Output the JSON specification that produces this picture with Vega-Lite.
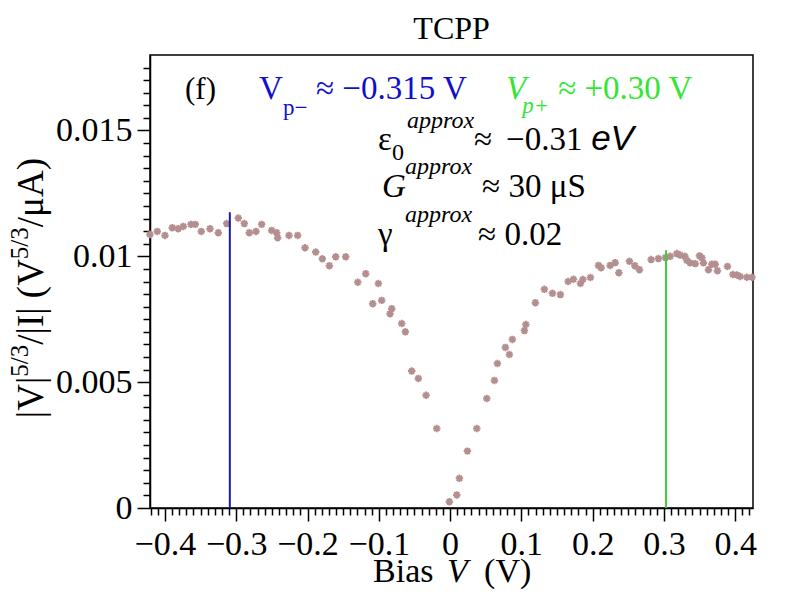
{
  "$schema": "https://vega.github.io/schema/vega-lite/v6.json",
  "width": 603,
  "height": 453,
  "autosize": {"type": "none"},
  "padding": {"left": 150, "top": 55, "right": 39, "bottom": 104},
  "background": "white",
  "config": {
    "view": {"stroke": "black", "strokeWidth": 1.5},
    "text": {"font": "Liberation Serif", "align": "left", "baseline": "alphabetic", "color": "black"}
  },
  "encoding": {
    "x": {
      "field": "x", "type": "quantitative",
      "scale": {"domain": [-0.421, 0.425], "nice": false, "zero": false},
      "axis": {
        "orient": "bottom",
        "title": null,
        "grid": false,
        "values": [-0.42, -0.41, -0.4, -0.39, -0.38, -0.37, -0.36, -0.35, -0.34, -0.33, -0.32, -0.31, -0.3, -0.29, -0.28, -0.27, -0.26, -0.25, -0.24, -0.23, -0.22, -0.21, -0.2, -0.19, -0.18, -0.17, -0.16, -0.15, -0.14, -0.13, -0.12, -0.11, -0.1, -0.09, -0.08, -0.07, -0.06, -0.05, -0.04, -0.03, -0.02, -0.01, 0, 0.01, 0.02, 0.03, 0.04, 0.05, 0.06, 0.07, 0.08, 0.09, 0.1, 0.11, 0.12, 0.13, 0.14, 0.15, 0.16, 0.17, 0.18, 0.19, 0.2, 0.21, 0.22, 0.23, 0.24, 0.25, 0.26, 0.27, 0.28, 0.29, 0.3, 0.31, 0.32, 0.33, 0.34, 0.35, 0.36, 0.37, 0.38, 0.39, 0.4, 0.41, 0.42],
        "domainColor": "black",
        "domainWidth": 1.5,
        "tickColor": "black",
        "tickWidth": 1.5,
        "tickSize": {"condition": {"test": "abs(datum.value * 10 - round(datum.value * 10)) < 1e-6", "value": 13}, "value": 7},
        "labelExpr": "abs(datum.value * 10 - round(datum.value * 10)) < 1e-6 ? format(datum.value, '~f') : ''",
        "labelFont": "Liberation Serif",
        "labelFontSize": 34,
        "labelColor": "black",
        "labelPadding": 6,
        "labelOverlap": false,
        "labelFlush": false,
        "labelBound": false
      }
    },
    "y": {
      "field": "y", "type": "quantitative",
      "scale": {"domain": [0, 0.018], "nice": false, "zero": false},
      "axis": {
        "orient": "left",
        "title": null,
        "grid": false,
        "values": [0, 0.0005, 0.001, 0.0015, 0.002, 0.0025, 0.003, 0.0035, 0.004, 0.0045, 0.005, 0.0055, 0.006, 0.0065, 0.007, 0.0075, 0.008, 0.0085, 0.009, 0.0095, 0.01, 0.0105, 0.011, 0.0115, 0.012, 0.0125, 0.013, 0.0135, 0.014, 0.0145, 0.015, 0.0155, 0.016, 0.0165, 0.017, 0.0175],
        "domainColor": "black",
        "domainWidth": 1.5,
        "tickColor": "black",
        "tickWidth": 1.5,
        "tickSize": {"condition": {"test": "abs(datum.value * 200 - round(datum.value * 200)) < 1e-6", "value": 13}, "value": 7},
        "labelExpr": "abs(datum.value * 200 - round(datum.value * 200)) < 1e-6 ? format(datum.value, '~f') : ''",
        "labelFont": "Liberation Serif",
        "labelFontSize": 34,
        "labelColor": "black",
        "labelPadding": 5,
        "labelOverlap": false,
        "labelFlush": false,
        "labelBound": false
      }
    }
  },
  "layer": [
    {
      "data": {
        "values": [
          {"x": -0.4211, "y": 0.01087}, {"x": -0.4108, "y": 0.01099}, {"x": -0.4000, "y": 0.01083},
          {"x": -0.3898, "y": 0.01114}, {"x": -0.3814, "y": 0.01110}, {"x": -0.3743, "y": 0.01119},
          {"x": -0.3635, "y": 0.01127}, {"x": -0.3575, "y": 0.01127}, {"x": -0.3491, "y": 0.01099},
          {"x": -0.3368, "y": 0.01110}, {"x": -0.3252, "y": 0.01094}, {"x": -0.3134, "y": 0.01130},
          {"x": -0.2971, "y": 0.01152}, {"x": -0.2887, "y": 0.01130}, {"x": -0.2817, "y": 0.01094},
          {"x": -0.2723, "y": 0.01099}, {"x": -0.2643, "y": 0.01127}, {"x": -0.2503, "y": 0.01103},
          {"x": -0.2433, "y": 0.01094}, {"x": -0.2419, "y": 0.01074}, {"x": -0.2260, "y": 0.01083},
          {"x": -0.2138, "y": 0.01083}, {"x": -0.2035, "y": 0.01034}, {"x": -0.1885, "y": 0.01017},
          {"x": -0.1792, "y": 0.00990}, {"x": -0.1694, "y": 0.00963}, {"x": -0.1604, "y": 0.00998},
          {"x": -0.1464, "y": 0.00998}, {"x": -0.1295, "y": 0.00897}, {"x": -0.1183, "y": 0.00931},
          {"x": -0.1006, "y": 0.00892}, {"x": -0.1085, "y": 0.00812}, {"x": -0.0959, "y": 0.00825},
          {"x": -0.0818, "y": 0.00792}, {"x": -0.0842, "y": 0.00772}, {"x": -0.0678, "y": 0.00733},
          {"x": -0.0627, "y": 0.00700}, {"x": -0.0538, "y": 0.00544}, {"x": -0.0445, "y": 0.00515},
          {"x": -0.0337, "y": 0.00448}, {"x": -0.0187, "y": 0.00316}, {"x": -0.0010, "y": 0.00025},
          {"x": 0.0094, "y": 0.00052}, {"x": 0.0131, "y": 0.00118}, {"x": 0.0243, "y": 0.00226},
          {"x": 0.0375, "y": 0.00316}, {"x": 0.0515, "y": 0.00435}, {"x": 0.0622, "y": 0.00507},
          {"x": 0.0664, "y": 0.00574}, {"x": 0.0776, "y": 0.00638}, {"x": 0.0832, "y": 0.00610},
          {"x": 0.0874, "y": 0.00670}, {"x": 0.1043, "y": 0.00705}, {"x": 0.1063, "y": 0.00729},
          {"x": 0.1197, "y": 0.00816}, {"x": 0.1323, "y": 0.00869}, {"x": 0.1436, "y": 0.00853},
          {"x": 0.1548, "y": 0.00848}, {"x": 0.1656, "y": 0.00900}, {"x": 0.1731, "y": 0.00909},
          {"x": 0.1829, "y": 0.00892}, {"x": 0.1863, "y": 0.00908}, {"x": 0.1969, "y": 0.00916},
          {"x": 0.2082, "y": 0.00964}, {"x": 0.2119, "y": 0.00955}, {"x": 0.2246, "y": 0.00964},
          {"x": 0.2316, "y": 0.00975}, {"x": 0.2368, "y": 0.00935}, {"x": 0.2517, "y": 0.00980},
          {"x": 0.2592, "y": 0.00963}, {"x": 0.2657, "y": 0.00947}, {"x": 0.2821, "y": 0.00987},
          {"x": 0.2923, "y": 0.00991}, {"x": 0.3022, "y": 0.00995}, {"x": 0.3088, "y": 0.01000},
          {"x": 0.3182, "y": 0.01011}, {"x": 0.3228, "y": 0.01005}, {"x": 0.3294, "y": 0.01000},
          {"x": 0.3322, "y": 0.00984}, {"x": 0.3368, "y": 0.00974}, {"x": 0.3439, "y": 0.00971},
          {"x": 0.3499, "y": 0.01002}, {"x": 0.3533, "y": 0.00994}, {"x": 0.3555, "y": 0.00974},
          {"x": 0.3625, "y": 0.00947}, {"x": 0.3673, "y": 0.00969}, {"x": 0.3719, "y": 0.00969},
          {"x": 0.3751, "y": 0.00943}, {"x": 0.3892, "y": 0.00960}, {"x": 0.3968, "y": 0.00928},
          {"x": 0.4024, "y": 0.00926}, {"x": 0.4070, "y": 0.00920}, {"x": 0.4164, "y": 0.00917},
          {"x": 0.4235, "y": 0.00917}
        ]
      },
      "mark": {
        "type": "point",
        "shape": "M-1,0L1,0M0,-1L0,1M-0.7,-0.7L0.7,0.7M-0.7,0.7L0.7,-0.7",
        "filled": false,
        "size": 56,
        "strokeWidth": 2,
        "color": "#b58f8f",
        "opacity": 1
      }
    },
    {
      "data": {
        "values": [
          {"x": -0.309, "y": 0, "y2": 0.01175, "line": "Vp-"},
          {"x": 0.303, "y": 0, "y2": 0.01024, "line": "Vp+"}
        ]
      },
      "mark": {"type": "rule", "strokeWidth": 2},
      "encoding": {
        "y2": {"field": "y2"},
        "color": {"field": "line", "type": "nominal", "scale": {"domain": ["Vp-", "Vp+"], "range": ["#1c1ca8", "#3ccc3c"]}, "legend": null}
      }
    },
    {
      "data": {"values": [{"x": 0.0021, "y": 0.01865, "label": "TCPP"}]},
      "mark": {"type": "text", "fontSize": 32, "align": "center"},
      "encoding": {"text": {"field": "label"}}
    },
    {
      "data": {"values": [{"x": -0.3719, "y": 0.01627, "label": "(f)"}]},
      "mark": {"type": "text", "fontSize": 31},
      "encoding": {"text": {"field": "label"}}
    },
    {
      "data": {
        "values": [
          {"x": -0.2681, "y": 0.01627, "label": "V"},
          {"x": -0.1881, "y": 0.01627, "label": "≈ −0.315 V"}
        ]
      },
      "mark": {"type": "text", "fontSize": 33, "color": "#1010cc"},
      "encoding": {"text": {"field": "label"}}
    },
    {
      "data": {"values": [{"x": -0.2344, "y": 0.01560, "label": "p−"}]},
      "mark": {"type": "text", "fontSize": 23, "color": "#1010cc"},
      "encoding": {"text": {"field": "label"}}
    },
    {
      "data": {"values": [{"x": 0.0786, "y": 0.01627, "label": "V"}]},
      "mark": {"type": "text", "fontSize": 33, "fontStyle": "italic", "color": "#33e633"},
      "encoding": {"text": {"field": "label"}}
    },
    {
      "data": {"values": [{"x": 0.1011, "y": 0.01571, "label": "p+"}]},
      "mark": {"type": "text", "fontSize": 23, "fontStyle": "italic", "color": "#33e633"},
      "encoding": {"text": {"field": "label"}}
    },
    {
      "data": {"values": [{"x": 0.1516, "y": 0.01627, "label": "≈ +0.30 V"}]},
      "mark": {"type": "text", "fontSize": 33, "color": "#33e633"},
      "encoding": {"text": {"field": "label"}}
    },
    {
      "data": {
        "values": [
          {"x": -0.1011, "y": 0.01421, "label": "ε"},
          {"x": 0.0337, "y": 0.01421, "label": "≈"},
          {"x": 0.0786, "y": 0.01421, "label": "−0.31"},
          {"x": 0.0449, "y": 0.01234, "label": "≈ 30 μS"},
          {"x": -0.1011, "y": 0.01044, "label": "γ"},
          {"x": 0.0393, "y": 0.01044, "label": "≈ 0.02"}
        ]
      },
      "mark": {"type": "text", "fontSize": 33},
      "encoding": {"text": {"field": "label"}}
    },
    {
      "data": {"values": [{"x": -0.0954, "y": 0.01234, "label": "G"}]},
      "mark": {"type": "text", "fontSize": 33, "fontStyle": "italic"},
      "encoding": {"text": {"field": "label"}}
    },
    {
      "data": {
        "values": [
          {"x": -0.0604, "y": 0.01508, "label": "approx"},
          {"x": -0.0632, "y": 0.01329, "label": "approx"},
          {"x": -0.0632, "y": 0.01135, "label": "approx"}
        ]
      },
      "mark": {"type": "text", "fontSize": 24, "fontStyle": "italic"},
      "encoding": {"text": {"field": "label"}}
    },
    {
      "data": {"values": [{"x": -0.0814, "y": 0.01381, "label": "0"}]},
      "mark": {"type": "text", "fontSize": 24},
      "encoding": {"text": {"field": "label"}}
    },
    {
      "data": {"values": [{"x": 0.1979, "y": 0.01421, "label": "eV"}]},
      "mark": {"type": "text", "font": "Liberation Sans", "fontSize": 35, "fontStyle": "italic"},
      "encoding": {"text": {"field": "label"}}
    },
    {
      "data": {
        "values": [
          {"x": -0.1081, "y": -0.00294, "label": "Bias"},
          {"x": 0.0477, "y": -0.00294, "label": "(V)"}
        ]
      },
      "mark": {"type": "text", "fontSize": 34},
      "encoding": {"text": {"field": "label"}}
    },
    {
      "data": {"values": [{"x": -0.0042, "y": -0.00294, "label": "V"}]},
      "mark": {"type": "text", "fontSize": 34, "fontStyle": "italic"},
      "encoding": {"text": {"field": "label"}}
    },
    {
      "data": {
        "values": [
          {"x": -0.5712, "y": 0.003571, "label": "|V|"},
          {"x": -0.5712, "y": 0.006488, "label": "/|I|"},
          {"x": -0.5712, "y": 0.008337, "label": "(V"},
          {"x": -0.5712, "y": 0.011158, "label": "/μA)"}
        ]
      },
      "mark": {"type": "text", "fontSize": 37, "angle": 270},
      "encoding": {"text": {"field": "label"}}
    },
    {
      "data": {
        "values": [
          {"x": -0.5923, "y": 0.005218, "label": "5/3"},
          {"x": -0.5923, "y": 0.009888, "label": "5/3"}
        ]
      },
      "mark": {"type": "text", "fontSize": 25, "angle": 270},
      "encoding": {"text": {"field": "label"}}
    }
  ]
}
